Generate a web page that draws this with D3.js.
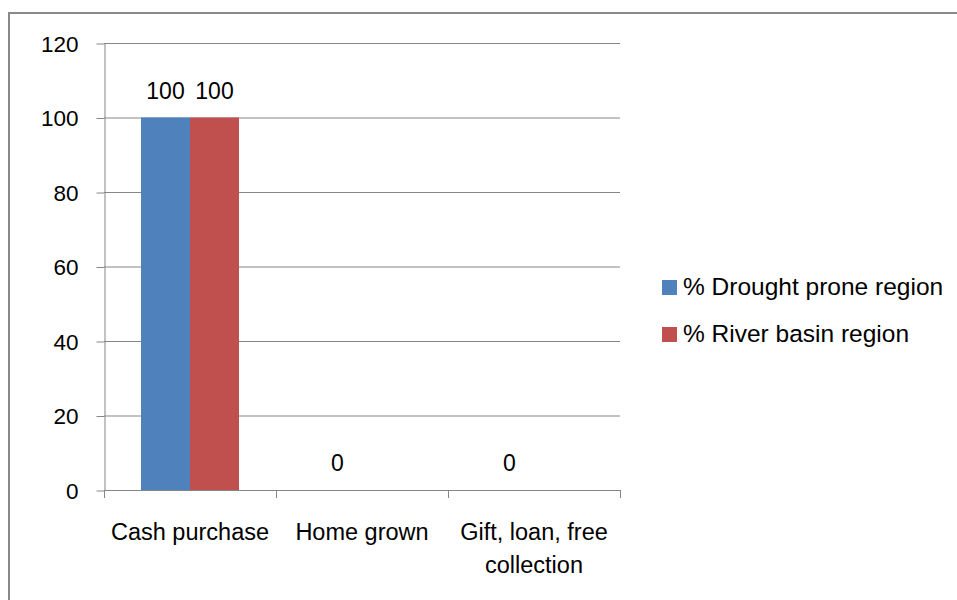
<!DOCTYPE html>
<html>
<head>
<meta charset="utf-8">
<script src="https://cdn.jsdelivr.net/npm/d3@7"></script>
<style>
  html, body { margin: 0; padding: 0; background: #fff; }
  svg { display: block; font-family: "Liberation Sans", Arial, sans-serif; }
</style>
</head>
<body>
<svg id="chart" width="957" height="600"></svg>
<script>
const categories = ["Cash purchase", "Home grown", "Gift, loan, free collection"];
const categoryLines = [["Cash purchase"], ["Home grown"], ["Gift, loan, free", "collection"]];
const seriesNames = ["% Drought prone region", "% River basin region"];
const droughtValues = [100, 0, 0];
const riverValues = [100, null, null];
const yTicks = [0, 20, 40, 60, 80, 100, 120];
const colors = ["#4F81BD", "#C0504D"];

(function () {
const series = [droughtValues, riverValues];
const svg = d3.select("#chart");

// outer border
svg.append("rect").attr("x", 9).attr("y", 13).attr("width", 1000).attr("height", 1000)
  .attr("fill", "none").attr("stroke", "#898989").attr("stroke-width", 2);

const pLeft = 104, pRight = 620, pTop = 43, pBottom = 490;
const x = d3.scaleBand().domain(categories).range([pLeft, pRight]).paddingInner(0).paddingOuter(0);
const y = d3.scaleLinear().domain([0, 120]).range([pBottom, pTop]);
const inner = d3.scaleBand().domain(d3.range(series.length)).range([0, x.bandwidth()]).paddingInner(0).paddingOuter(0.7547);

const gridColor = "#868686";

// gridlines
svg.append("g").selectAll("line").data(yTicks.filter(d => d !== 0)).join("line")
  .attr("x1", pLeft).attr("x2", pRight)
  .attr("y1", d => y(d) + 0.5).attr("y2", d => y(d) + 0.5)
  .attr("stroke", gridColor).attr("stroke-width", 1);

// bars
series.forEach((vals, si) => {
  svg.append("g").selectAll("rect").data(categories.map((c, i) => ({c, v: vals[i]})).filter(d => d.v !== null && d.v > 0))
    .join("rect")
    .attr("x", d => x(d.c) + inner(si))
    .attr("width", inner.bandwidth())
    .attr("y", d => y(d.v))
    .attr("height", d => y(0) - y(d.v))
    .attr("fill", colors[si]);
});

// y axis
const yAxis = d3.axisLeft(y).tickValues(yTicks).tickSize(8).tickPadding(18).tickSizeOuter(0);
const yg = svg.append("g").attr("transform", `translate(${pLeft + 0.5},0)`).call(yAxis);
yg.selectAll("path").attr("stroke", gridColor);
yg.selectAll("line").attr("stroke", gridColor).attr("transform", "translate(0,0.5)");
yg.selectAll("text").attr("font-size", 22.5).attr("fill", "#000").attr("font-family", "Liberation Sans, Arial, sans-serif").attr("dy", "0.36em");

// x axis baseline
svg.append("line").attr("x1", pLeft).attr("x2", pRight).attr("y1", pBottom + 0.5).attr("y2", pBottom + 0.5)
  .attr("stroke", gridColor).attr("stroke-width", 1);
// x ticks at category boundaries
const bounds = categories.map(c => x(c)).concat([pRight]);
svg.append("g").selectAll("line").data(bounds).join("line")
  .attr("x1", d => d + 0.5).attr("x2", d => d + 0.5)
  .attr("y1", pBottom).attr("y2", pBottom + 8)
  .attr("stroke", gridColor);

// category labels
categories.forEach((c, i) => {
  const t = svg.append("text").attr("x", x(c) + x.bandwidth() / 2).attr("y", 540)
    .attr("text-anchor", "middle").attr("font-size", 23.5).attr("fill", "#000");
  categoryLines[i].forEach((ln, j) => {
    t.append("tspan").attr("x", x(c) + x.bandwidth() / 2).attr("dy", j === 0 ? 0 : 33).text(ln);
  });
});

// data labels
series.forEach((vals, si) => {
  svg.append("g").selectAll("text").data(categories.map((c, i) => ({c, v: vals[i]})).filter(d => d.v !== null))
    .join("text")
    .attr("x", d => x(d.c) + inner(si) + inner.bandwidth() / 2)
    .attr("y", d => y(d.v) - 19)
    .attr("text-anchor", "middle").attr("font-size", 23).attr("fill", "#000")
    .text(d => d.v);
});

// legend
const leg = svg.append("g");
seriesNames.forEach((n, i) => {
  const yy = 280 + i * 47;
  leg.append("rect").attr("x", 662).attr("y", yy).attr("width", 15).attr("height", 15).attr("fill", colors[i]);
  leg.append("text").attr("x", 683).attr("y", yy + 15).attr("font-size", 24.5).attr("fill", "#000").text(n);
});
})();
</script>
</body>
</html>
